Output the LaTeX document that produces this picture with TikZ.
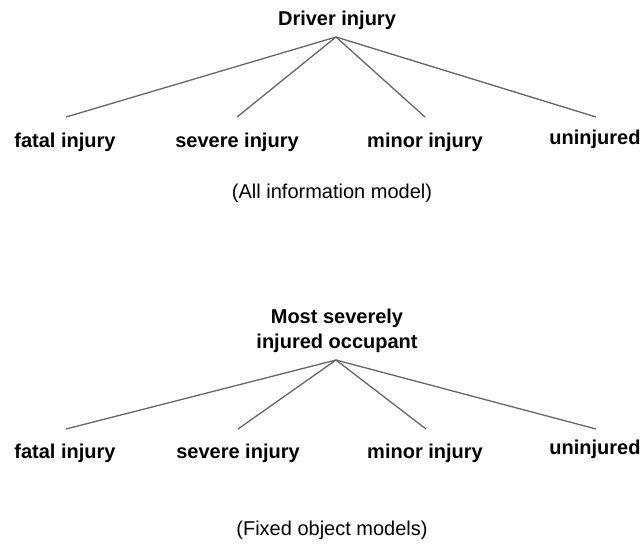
\documentclass[tikz,border=0pt]{standalone}
\usepackage{fontspec}
\setmainfont{Liberation Sans}
\begin{document}
\begin{tikzpicture}[x=1pt,y=-1pt,
  lbl/.style={font=\fontsize{20}{25}\selectfont\bfseries, inner sep=0pt, anchor=base},
  captxt/.style={font=\fontsize{20}{25}\selectfont, inner sep=0pt, anchor=base},
  conn/.style={draw=black!60, line width=1.3pt}]
\useasboundingbox (0,0) rectangle (644,544);
% ---- top tree ----
\node[lbl] (t1) at (337,25) {Driver injury};
\coordinate (a1) at (336,37);
\node[lbl] (f1) at (65,147) {fatal injury};
\node[lbl] (s1) at (237,147) {severe injury};
\node[lbl] (m1) at (425,147) {minor injury};
\node[lbl] (u1) at (595,144) {uninjured};
\coordinate (e1) at (66,117);
\coordinate (e2) at (237,117);
\coordinate (e3) at (425,117);
\coordinate (e4) at (596,117);
\draw[conn] (a1) -- (e1);
\draw[conn] (a1) -- (e2);
\draw[conn] (a1) -- (e3);
\draw[conn] (a1) -- (e4);
\node[captxt] (c1) at (332,198) {(All information model)};
% ---- bottom tree ----
\node[lbl, anchor=north, align=center] (t2) at (337,308.5) {Most severely\\injured occupant};
\coordinate (a2) at (336,360);
\node[lbl] (f2) at (65,458) {fatal injury};
\node[lbl] (s2) at (238,458) {severe injury};
\node[lbl] (m2) at (425,458) {minor injury};
\node[lbl] (u2) at (595,454) {uninjured};
\coordinate (g1) at (66,429);
\coordinate (g2) at (238,429);
\coordinate (g3) at (426,429);
\coordinate (g4) at (596,429);
\draw[conn] (a2) -- (g1);
\draw[conn] (a2) -- (g2);
\draw[conn] (a2) -- (g3);
\draw[conn] (a2) -- (g4);
\node[captxt] (c2) at (332,535) {(Fixed object models)};
\end{tikzpicture}
\end{document}
